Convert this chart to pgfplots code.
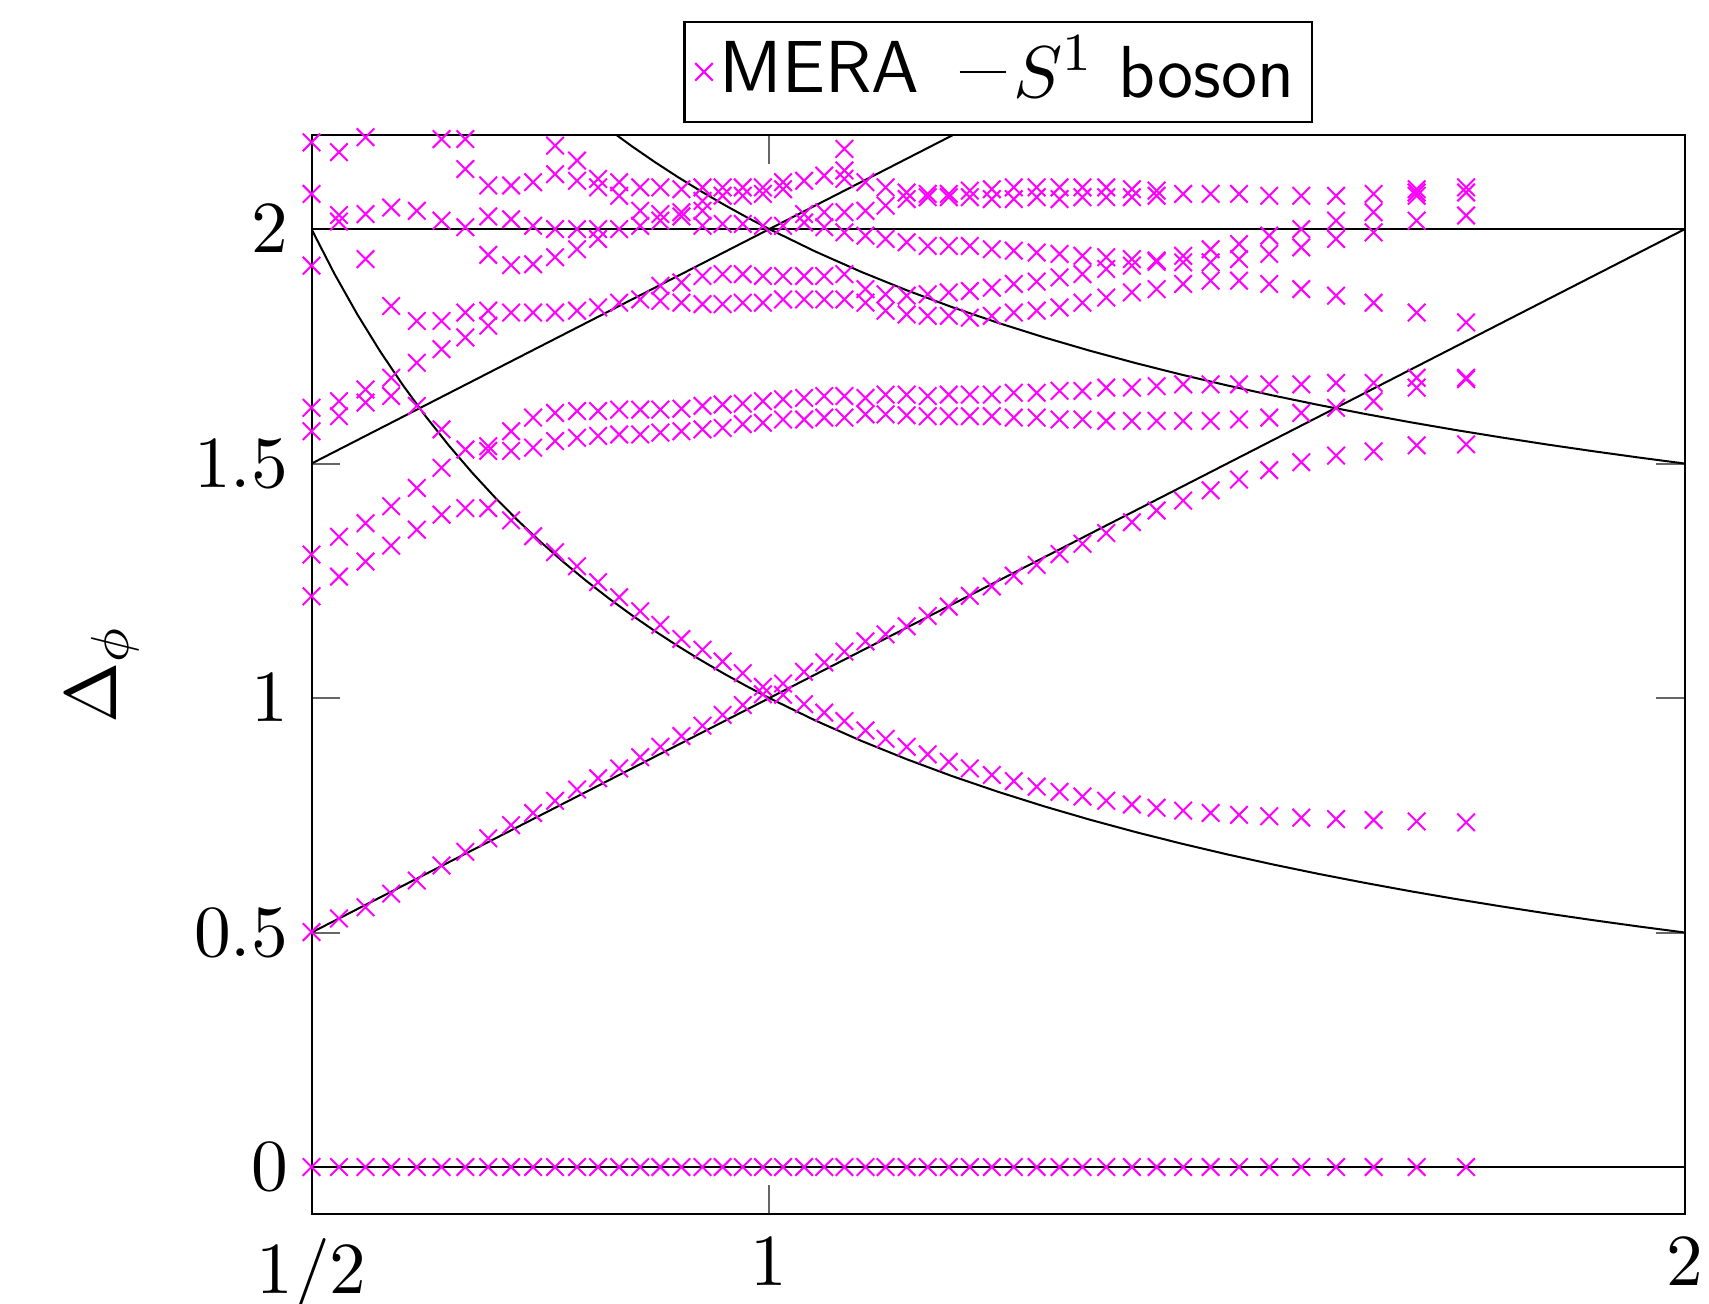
\documentclass[border=0pt]{standalone}
\usepackage{pgfplots}
\pgfplotsset{compat=1.18}
\definecolor{mag}{rgb}{1,0,1}
\pgfplotsset{
  markleg/.style={legend image code/.code={\draw[##1] plot coordinates {(0pt,0pt)};}},
  lineleg/.style={legend image code/.code={\draw[##1] (0pt,0pt) -- (6.9pt,0pt);}},
}
\begin{document}
\begin{tikzpicture}
\begin{axis}[
  scale only axis,
  width=205pt, height=161pt,
  xmin=0.5, xmax=2, ymin=-0.1, ymax=2.2,
  xtick={0.5,1,2}, xticklabels={$1/2$,$1$,$2$},
  ytick={0,0.5,1,1.5,2},
  font=\fontsize{11}{13}\selectfont,
  axis line style={line width=0.3pt},
  tick style={line width=0.3pt, black!60},
  x tick label style={inner ysep=0pt, inner xsep=0pt, text depth=0pt, yshift=-3.5pt},
  ylabel={$\Delta_\phi$},
  every axis y label/.style={at={(axis description cs:-0.152,0.5)},rotate=90,anchor=center},
  legend style={at={(0.5,1)}, yshift=1.8pt, anchor=south, legend columns=2,
    draw=black, line width=0.3pt, font=\fontsize{11}{13}\selectfont\sffamily,
    /tikz/every even column/.append style={column sep=4.9pt},
    nodes={inner xsep=1pt, inner ysep=1.5pt},
    inner xsep=1.6pt, inner ysep=0.7pt},
]
\addplot[only marks, mark=x, mag, mark size=1.85pt, line width=0.3pt, markleg] table {
x y
0.500 2.185
0.500 2.075
0.500 1.922
0.500 1.619
0.500 1.569
0.500 1.306
0.500 1.217
0.500 0.501
0.500 0
0.530 2.164
0.530 2.030
0.530 2.016
0.530 1.633
0.530 1.601
0.530 1.344
0.530 1.259
0.530 0.530
0.530 0
0.559 2.196
0.559 2.032
0.559 1.936
0.559 1.658
0.559 1.630
0.559 1.373
0.559 1.291
0.559 0.554
0.559 0
0.587 2.046
0.587 1.836
0.587 1.683
0.587 1.644
0.587 1.409
0.587 1.325
0.587 0.583
0.587 0
0.615 2.039
0.615 1.804
0.615 1.715
0.615 1.623
0.615 1.448
0.615 1.359
0.615 0.611
0.615 0
0.642 2.192
0.642 2.018
0.642 1.804
0.642 1.744
0.642 1.573
0.642 1.491
0.642 1.391
0.642 0.643
0.642 0
0.668 2.192
0.668 2.128
0.668 2.004
0.668 1.822
0.668 1.769
0.668 1.530
0.668 1.405
0.668 0.672
0.668 0
0.693 2.093
0.693 2.027
0.693 1.945
0.693 1.826
0.693 1.794
0.693 1.537
0.693 1.527
0.693 1.405
0.693 0.701
0.693 0
0.718 2.093
0.718 2.021
0.718 1.923
0.718 1.822
0.718 1.569
0.718 1.527
0.718 1.379
0.718 0.729
0.718 0
0.742 2.100
0.742 2.007
0.742 1.925
0.742 1.822
0.742 1.598
0.742 1.534
0.742 1.345
0.742 0.755
0.742 0
0.766 2.178
0.766 2.117
0.766 2.000
0.766 1.940
0.766 1.822
0.766 1.608
0.766 1.548
0.766 1.311
0.766 0.781
0.766 0
0.790 2.146
0.790 2.103
0.790 2.000
0.790 1.957
0.790 1.826
0.790 1.612
0.790 1.555
0.790 1.281
0.790 0.805
0.790 0
0.813 2.107
0.813 2.089
0.813 2.000
0.813 1.979
0.813 1.833
0.813 1.612
0.813 1.559
0.813 1.247
0.813 0.829
0.813 0
0.836 2.100
0.836 2.071
0.836 2.000
0.836 1.843
0.836 1.615
0.836 1.562
0.836 1.215
0.836 0.850
0.836 0
0.859 2.089
0.859 2.039
0.859 2.007
0.859 1.850
0.859 1.615
0.859 1.562
0.859 1.185
0.859 0.874
0.859 0
0.881 2.089
0.881 2.032
0.881 2.018
0.881 1.879
0.881 1.847
0.881 1.615
0.881 1.566
0.881 1.156
0.881 0.896
0.881 0
0.904 2.085
0.904 2.036
0.904 2.027
0.904 1.886
0.904 1.843
0.904 1.617
0.904 1.569
0.904 1.126
0.904 0.919
0.904 0
0.927 2.089
0.927 2.060
0.927 2.039
0.927 2.007
0.927 1.900
0.927 1.840
0.927 1.623
0.927 1.573
0.927 1.103
0.927 0.941
0.927 0
0.949 2.089
0.949 2.071
0.949 2.011
0.949 1.904
0.949 1.840
0.949 1.626
0.949 1.576
0.949 1.078
0.949 0.964
0.949 0
0.971 2.089
0.971 2.071
0.971 2.011
0.971 1.904
0.971 1.843
0.971 1.628
0.971 1.584
0.971 1.053
0.971 0.985
0.971 0
0.993 2.089
0.993 2.075
0.993 2.007
0.993 1.900
0.993 1.843
0.993 1.633
0.993 1.587
0.993 1.024
0.993 1.008
0.993 0
1.015 2.100
1.015 2.085
1.015 2.007
1.015 1.900
1.015 1.850
1.015 1.637
1.015 1.594
1.015 1.031
1.015 1.007
1.015 0
1.038 2.103
1.038 2.032
1.038 2.014
1.038 1.900
1.038 1.850
1.038 1.640
1.038 1.594
1.038 1.056
1.038 0.987
1.038 0
1.060 2.114
1.060 2.036
1.060 2.004
1.060 1.900
1.060 1.850
1.060 1.644
1.060 1.598
1.060 1.076
1.060 0.969
1.060 0
1.082 2.171
1.082 2.125
1.082 2.107
1.082 2.036
1.082 1.993
1.082 1.904
1.082 1.850
1.082 1.644
1.082 1.598
1.082 1.099
1.082 0.951
1.082 0
1.105 2.100
1.105 2.039
1.105 1.986
1.105 1.872
1.105 1.843
1.105 1.640
1.105 1.605
1.105 1.121
1.105 0.931
1.105 0
1.127 2.089
1.127 2.050
1.127 1.979
1.127 1.861
1.127 1.826
1.127 1.647
1.127 1.605
1.127 1.136
1.127 0.913
1.127 0
1.150 2.078
1.150 2.064
1.150 1.972
1.150 1.858
1.150 1.818
1.150 1.647
1.150 1.603
1.150 1.153
1.150 0.896
1.150 0
1.173 2.075
1.173 2.068
1.173 1.964
1.173 1.861
1.173 1.815
1.173 1.644
1.173 1.601
1.173 1.175
1.173 0.880
1.173 0
1.196 2.075
1.196 2.068
1.196 1.964
1.196 1.865
1.196 1.815
1.196 1.647
1.196 1.601
1.196 1.195
1.196 0.864
1.196 0
1.219 2.082
1.219 2.068
1.219 1.964
1.219 1.868
1.219 1.811
1.219 1.647
1.219 1.601
1.219 1.218
1.219 0.850
1.219 0
1.243 2.085
1.243 2.064
1.243 1.957
1.243 1.875
1.243 1.815
1.243 1.647
1.243 1.601
1.243 1.238
1.243 0.836
1.243 0
1.267 2.089
1.267 2.064
1.267 1.954
1.267 1.883
1.267 1.822
1.267 1.651
1.267 1.598
1.267 1.261
1.267 0.823
1.267 0
1.292 2.089
1.292 2.068
1.292 1.950
1.292 1.888
1.292 1.826
1.292 1.651
1.292 1.598
1.292 1.284
1.292 0.811
1.292 0
1.317 2.089
1.317 2.064
1.317 1.947
1.317 1.897
1.317 1.833
1.317 1.655
1.317 1.594
1.317 1.307
1.317 0.800
1.317 0
1.342 2.089
1.342 2.068
1.342 1.943
1.342 1.904
1.342 1.843
1.342 1.655
1.342 1.594
1.342 1.329
1.342 0.790
1.342 0
1.368 2.089
1.368 2.068
1.368 1.940
1.368 1.915
1.368 1.854
1.368 1.662
1.368 1.591
1.368 1.352
1.368 0.781
1.368 0
1.396 2.085
1.396 2.068
1.396 1.936
1.396 1.922
1.396 1.865
1.396 1.662
1.396 1.591
1.396 1.375
1.396 0.773
1.396 0
1.423 2.082
1.423 2.071
1.423 1.933
1.423 1.930
1.423 1.872
1.423 1.665
1.423 1.591
1.423 1.400
1.423 0.766
1.423 0
1.452 2.075
1.452 1.943
1.452 1.929
1.452 1.883
1.452 1.669
1.452 1.591
1.452 1.421
1.452 0.760
1.452 0
1.482 2.075
1.482 1.957
1.482 1.929
1.482 1.890
1.482 1.669
1.482 1.591
1.482 1.443
1.482 0.755
1.482 0
1.513 2.075
1.513 1.968
1.513 1.936
1.513 1.890
1.513 1.669
1.513 1.594
1.513 1.466
1.513 0.751
1.513 0
1.546 2.071
1.546 1.986
1.546 1.947
1.546 1.883
1.546 1.669
1.546 1.598
1.546 1.486
1.546 0.748
1.546 0
1.581 2.071
1.581 2.000
1.581 1.961
1.581 1.872
1.581 1.669
1.581 1.608
1.581 1.503
1.581 0.745
1.581 0
1.619 2.071
1.619 2.018
1.619 1.979
1.619 1.858
1.619 1.672
1.619 1.619
1.619 1.517
1.619 0.742
1.619 0
1.660 2.075
1.660 2.036
1.660 1.993
1.660 1.843
1.660 1.672
1.660 1.633
1.660 1.526
1.660 0.740
1.660 0
1.707 2.085
1.707 2.078
1.707 2.071
1.707 2.018
1.707 1.822
1.707 1.683
1.707 1.662
1.707 1.539
1.707 0.737
1.707 0
1.761 2.089
1.761 2.078
1.761 2.029
1.761 1.801
1.761 1.683
1.761 1.680
1.761 1.541
1.761 0.735
1.761 0
};
\addlegendentry{MERA}
\addplot[black, line width=0.3pt, lineleg] coordinates {(0.5,0) (2,0)};
\addlegendentry{$S^1$ boson}
\addplot[black, line width=0.3pt, forget plot] coordinates {(0.5,2) (2,2)};
\addplot[black, line width=0.3pt, forget plot] coordinates {(0.5,0.5) (2,2)};
\addplot[black, line width=0.3pt, forget plot] coordinates {(0.5,1.5) (1.2,2.2)};
\addplot[black, line width=0.3pt, forget plot] table {
x y
0.500 2.0000
0.525 1.9048
0.550 1.8182
0.575 1.7391
0.600 1.6667
0.625 1.6000
0.650 1.5385
0.675 1.4815
0.700 1.4286
0.725 1.3793
0.750 1.3333
0.775 1.2903
0.800 1.2500
0.825 1.2121
0.850 1.1765
0.875 1.1429
0.900 1.1111
0.925 1.0811
0.950 1.0526
0.975 1.0256
1.000 1.0000
1.050 0.9524
1.100 0.9091
1.150 0.8696
1.200 0.8333
1.250 0.8000
1.300 0.7692
1.350 0.7407
1.400 0.7143
1.450 0.6897
1.500 0.6667
1.550 0.6452
1.600 0.6250
1.650 0.6061
1.700 0.5882
1.750 0.5714
1.800 0.5556
1.850 0.5405
1.900 0.5263
1.950 0.5128
2.000 0.5000
};
\addplot[black, line width=0.3pt, forget plot] table {
x y
0.825 2.2121
0.850 2.1765
0.875 2.1429
0.900 2.1111
0.925 2.0811
0.950 2.0526
0.975 2.0256
1.000 2.0000
1.050 1.9524
1.100 1.9091
1.150 1.8696
1.200 1.8333
1.250 1.8000
1.300 1.7692
1.350 1.7407
1.400 1.7143
1.450 1.6897
1.500 1.6667
1.550 1.6452
1.600 1.6250
1.650 1.6061
1.700 1.5882
1.750 1.5714
1.800 1.5556
1.850 1.5405
1.900 1.5263
1.950 1.5128
2.000 1.5000
};
\end{axis}
\path ([yshift=20.2pt]current axis.north);
\path ([xshift=3.6pt]current axis.east);
\path ([xshift=-46.5pt]current axis.west);
\path ([yshift=-13.3pt]current axis.south);
\end{tikzpicture}
\end{document}
